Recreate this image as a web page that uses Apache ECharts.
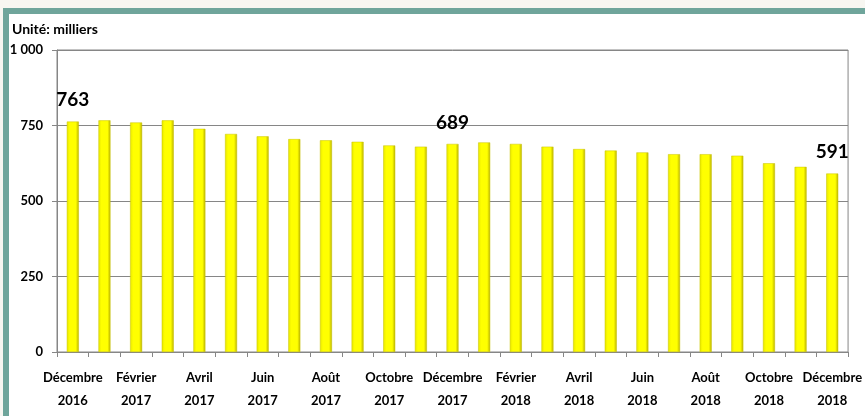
<!DOCTYPE html>
<html>
<head>
<meta charset="utf-8">
<script src="https://cdn.jsdelivr.net/npm/echarts@6/dist/echarts.min.js"></script>
<style>
  html, body { margin: 0; padding: 0; background: #f7f6f1; overflow: hidden; }
  #frame { position: absolute; left: 3px; top: 8px; width: 900px; height: 450px;
           background: #fff; border: 6px solid #6fa59b; }
  #chart { position: absolute; left: 0; top: 0; width: 865px; height: 416px; }
</style>
</head>
<body>
<div id="frame"></div>
<div id="chart"></div>
<script>
// months Dec 2016 -> Dec 2018 (label shown every other month)
const months = [
  'Décembre\n2016', 'Janvier\n2017', 'Février\n2017', 'Mars\n2017', 'Avril\n2017',
  'Mai\n2017', 'Juin\n2017', 'Juillet\n2017', 'Août\n2017', 'Septembre\n2017',
  'Octobre\n2017', 'Novembre\n2017', 'Décembre\n2017', 'Janvier\n2018', 'Février\n2018',
  'Mars\n2018', 'Avril\n2018', 'Mai\n2018', 'Juin\n2018', 'Juillet\n2018',
  'Août\n2018', 'Septembre\n2018', 'Octobre\n2018', 'Novembre\n2018', 'Décembre\n2018'
];
// unit: thousands
const values = [
  763, 767, 760, 767, 739, 722, 714, 705, 701, 696, 684, 680, 689,
  694, 689, 680, 672, 667, 661, 655, 655, 650, 625, 613, 591
];
// only these bars carry a value label
const labelled = [0, 12, 24];
const yTicks = [0, 250, 500, 750, 1000];

const font = 'Lato, "Open Sans", sans-serif';

const chart = echarts.init(document.getElementById('chart'));

const barColor = new echarts.graphic.LinearGradient(0, 0, 1, 0, [
  { offset: 0, color: '#e6e600' },
  { offset: 0.25, color: '#ffff00' },
  { offset: 0.75, color: '#ffff00' },
  { offset: 1, color: '#b8b000' }
]);

const option = {
  animation: false,
  backgroundColor: 'transparent',
  graphic: [
    { type: 'text', left: 12, top: 22,
      style: { text: 'Unité: milliers', font: 'bold 14px ' + font, fill: '#000' } }
  ],
  grid: { left: 57, right: 12, top: 50, bottom: 64, show: true, borderColor: '#868686', borderWidth: 1 },
  xAxis: {
    type: 'category',
    data: months,
    boundaryGap: true,
    axisLine: { lineStyle: { color: '#868686', width: 1 } },
    axisTick: { show: true, interval: 0, length: 5, lineStyle: { color: '#868686' } },
    axisLabel: {
      interval: 1,
      color: '#000',
      fontFamily: font,
      fontWeight: 'bold',
      fontSize: 13,
      lineHeight: 23,
      margin: 14
    }
  },
  yAxis: {
    type: 'value',
    min: yTicks[0],
    max: yTicks[yTicks.length - 1],
    interval: 250,
    axisLine: { show: true, lineStyle: { color: '#868686' } },
    axisTick: { show: true, length: 5, lineStyle: { color: '#868686' } },
    splitLine: { lineStyle: { color: '#868686', width: 1 } },
    axisLabel: {
      color: '#000',
      fontFamily: font,
      fontWeight: 'bold',
      fontSize: 13,
      margin: 14,
      formatter: v => v >= 1000 ? '1 000' : String(v)
    }
  },
  series: [{
    type: 'bar',
    data: values.map((v, i) => ({
      value: v,
      label: { show: labelled.includes(i) }
    })),
    barWidth: 12,
    itemStyle: { color: barColor, borderColor: '#c9c200', borderWidth: 0.5 },
    label: {
      position: 'top',
      distance: 12,
      color: '#000',
      fontFamily: font,
      fontWeight: 'bold',
      fontSize: 19
    }
  }]
};

chart.setOption(option);
</script>
</body>
</html>
